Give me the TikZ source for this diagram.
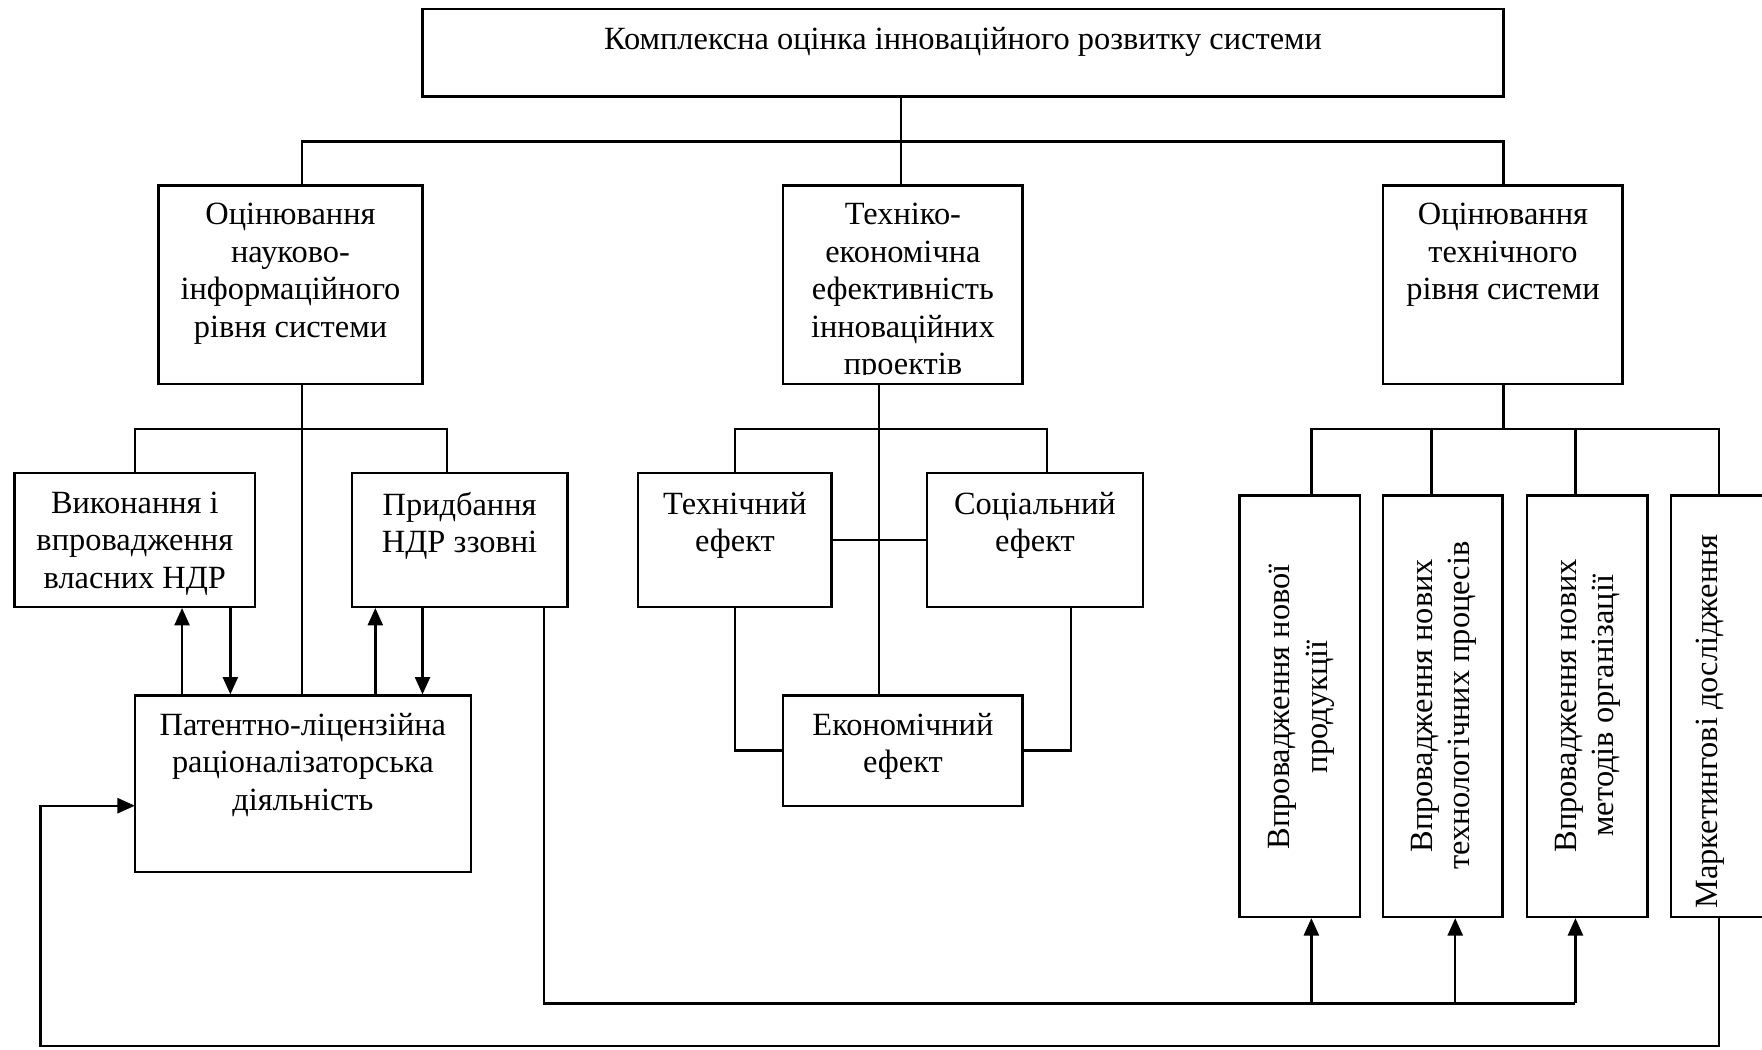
\documentclass[tikz,border=0pt]{standalone}
\usepackage{fontspec}
\setmainfont{Liberation Serif}
\usetikzlibrary{arrows.meta,fit}
\begin{document}
\begin{tikzpicture}[x=0.01cm,y=-0.01cm,
  box/.style={draw, line width=0.6pt, inner sep=0pt},
  txt/.style={inner sep=0pt, align=center, font=\fontsize{8.2pt}{9.5pt}\selectfont},
  link/.style={line width=0.6pt},
  arr/.style={line width=0.6pt, -{Triangle[length=4.4pt,width=3.8pt]}}]
\clip (0,0) rectangle (1568,934);
\fill[white] (0,0) rectangle (1568,934);

% ---------- boxes ----------
\node[box, fit={(376,8)(1338,86)}] (root) {};
\node[box, fit={(141,165)(376,342)}] (sci) {};
\node[box, fit={(697,165)(910,342)}] (eff) {};
\node[box, fit={(1231,165)(1444,342)}] (tech) {};

\node[box, fit={(13,421)(227,540)}] (own) {};
\node[box, fit={(313,421)(505,540)}] (ext) {};
\node[box, fit={(120,619)(419,776)}] (pat) {};

\node[box, fit={(568,421)(740,540)}] (te) {};
\node[box, fit={(825,421)(1017,540)}] (se) {};
\node[box, fit={(697,619)(910,717)}] (ee) {};

\node[box, fit={(1103,441)(1210,816)}] (v1) {};
\node[box, fit={(1231,441)(1337,816)}] (v2) {};
\node[box, fit={(1359,441)(1466,816)}] (v3) {};
\node[box, fit={(1487,441)(1600,816)}] (v4) {};

% ---------- texts ----------
\node[txt, anchor=north] (rootT) at (857,24) {Комплексна оцінка інноваційного розвитку системи};
\node[txt, anchor=north] (sciT) at (258.5,180) {Оцінювання\\науково-\\інформаційного\\рівня системи};
\begin{scope}
  \clip (697,165) rectangle (910,333);
  \node[txt, anchor=north] (effT) at (803.5,180) {Техніко-\\економічна\\ефективність\\інноваційних\\проектів};
\end{scope}
\node[txt, anchor=north] (techT) at (1337.5,180) {Оцінювання\\технічного\\рівня системи};

\node[txt, anchor=north] (ownT) at (120,437) {Виконання і\\впровадження\\власних НДР};
\node[txt, anchor=north] (extT) at (409,437) {Придбання\\НДР ззовні};
\node[txt, anchor=north] (patT) at (269.5,634) {Патентно-ліцензійна\\раціоналізаторська\\діяльність};

\node[txt, anchor=north] (teT) at (654,437) {Технічний\\ефект};
\node[txt, anchor=north] (seT) at (921,437) {Соціальний\\ефект};
\node[txt, anchor=north] (eeT) at (803.5,634) {Економічний\\ефект};

\node[txt, rotate=90] (v1T) at (1158,629) {Впровадження нової\\продукції};
\node[txt, rotate=90] (v2T) at (1285,628) {Впровадження нових\\технологічних процесів};
\node[txt, rotate=90] (v3T) at (1413,628) {Впровадження нових\\методів організації};
\node[txt, rotate=90] (v4T) at (1522,642) {Маркетингові дослідження};

% ---------- junction points ----------
\coordinate (j0) at (802,126);
\coordinate (jl) at (269,126);
\coordinate (jr) at (1338,126);

\coordinate (lj) at (269,382);
\coordinate (lbl) at (120,382);
\coordinate (lbr) at (398,382);

\coordinate (mj) at (782,382);
\coordinate (mbl) at (654,382);
\coordinate (mbr) at (932,382);
\coordinate (ml) at (654,668);
\coordinate (mr) at (953,668);

\coordinate (rj) at (1338,382);
\coordinate (rt1) at (1167,382);
\coordinate (rt2) at (1274,382);
\coordinate (rt3) at (1402,382);
\coordinate (rt4) at (1530,382);

\coordinate (xa) at (162,0);
\coordinate (xb) at (205,0);
\coordinate (xc) at (334,0);
\coordinate (xd) at (376,0);

\coordinate (rb0) at (484,893);
\coordinate (rb1) at (1167,893);
\coordinate (rb2) at (1295,893);
\coordinate (rb3) at (1402,893);

\coordinate (fbr) at (1530,931);
\coordinate (fbl) at (36,931);
\coordinate (pin) at (120,717);

% ---------- connectors ----------
% top level
\draw[link] (j0 |- root.south) -- (j0 |- eff.north);
\draw[link] (jl |- sci.north) -- (jl) -- (jr) -- (jr |- tech.north);

% left branch
\draw[link] (lj |- sci.south) -- (lj |- pat.north);
\draw[link] (lbl |- own.north) -- (lbl) -- (lbr) -- (lbr |- ext.north);
\draw[arr] (xa |- pat.north) -- (xa |- own.south);
\draw[arr] (xb |- own.south) -- (xb |- pat.north);
\draw[arr] (xc |- pat.north) -- (xc |- ext.south);
\draw[arr] (xd |- ext.south) -- (xd |- pat.north);

% middle branch
\draw[link] (mj |- eff.south) -- (mj |- ee.north);
\draw[link] (mbl |- te.north) -- (mbl) -- (mbr) -- (mbr |- se.north);
\draw[link] (te.east) -- (se.west);
\draw[link] (ml |- te.south) -- (ml) -- (ee.west);
\draw[link] (mr |- se.south) -- (mr) -- (ee.east);

% right branch
\draw[link] (rj |- tech.south) -- (rj);
\draw[link] (rt1 |- v1.north) -- (rt1) -- (rt4) -- (rt4 |- v4.north);
\draw[link] (rt2) -- (rt2 |- v2.north);
\draw[link] (rt3) -- (rt3 |- v3.north);

% external R&D feeding the innovation boxes
\draw[link] (rb0 |- ext.south) -- (rb0) -- (rb3);
\draw[arr] (rb1) -- (rb1 |- v1.south);
\draw[arr] (rb2) -- (rb2 |- v2.south);
\draw[arr] (rb3) -- (rb3 |- v3.south);

% feedback from marketing to patent activity
\draw[arr] (fbr |- v4.south) -- (fbr) -- (fbl) -- (fbl |- pin) -- (pin);
\end{tikzpicture}
\end{document}
